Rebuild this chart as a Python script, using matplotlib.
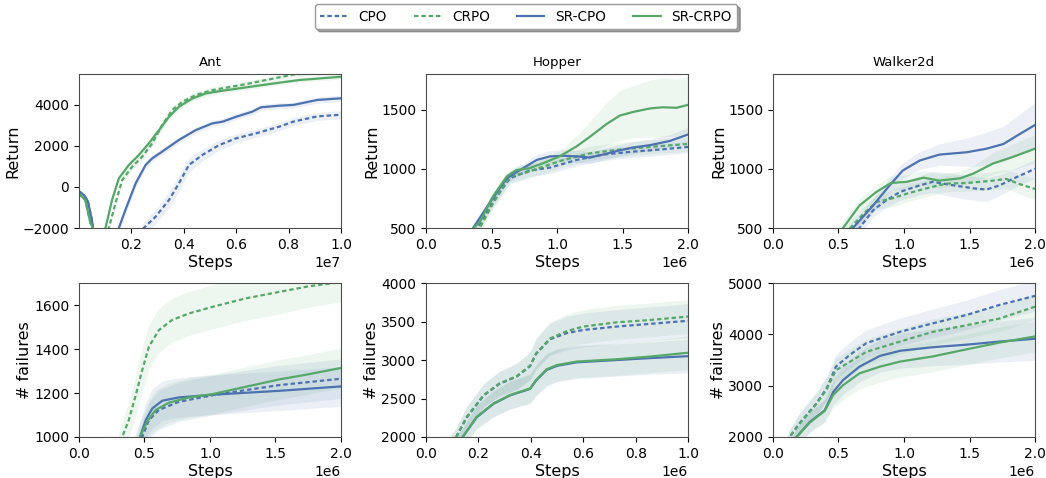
import numpy as np
import matplotlib.pyplot as plt

# цвета и стили методов
blue = '#4c72b0'
green = '#55a868'
methods = ['CPO', 'CRPO', 'SR-CPO', 'SR-CRPO']
colors = [blue, green, blue, green]
dash = (0, (2.0, 1.3))
styles = [dash, dash, '-', '-']

# ---------------- Ant, return (x * 1e7)
ant_ret_x_cpo = [0.0, 0.02, 0.035, 0.05, 0.065, 0.15, 0.248, 0.293, 0.344, 0.382, 0.42, 0.471, 0.535, 0.6, 0.675, 0.764, 0.82, 0.91, 1.0]
ant_ret_y_cpo = [-200, -400, -700, -1600, -3000, -4000, -2000, -1450, -636, 175, 1070, 1555, 2040, 2370, 2610, 2935, 3190, 3440, 3520]
ant_ret_s_cpo = [50, 50, 60, 80, 100, 200, 300, 350, 400, 400, 350, 300, 250, 220, 200, 200, 200, 200, 200]

ant_ret_x_crpo = [0.0, 0.025, 0.045, 0.054, 0.07, 0.1, 0.115, 0.14, 0.166, 0.204, 0.242, 0.28, 0.318, 0.357, 0.395, 0.446, 0.51, 0.637, 0.764, 0.82, 0.9, 1.0]
ant_ret_y_crpo = [-312, -636, -1770, -2000, -3500, -3300, -2000, -800, 340, 990, 1470, 2120, 3010, 3750, 4150, 4480, 4720, 5010, 5340, 5480, 5560, 5600]
ant_ret_s_crpo = [30, 30, 40, 50, 80, 100, 120, 150, 150, 150, 150, 160, 170, 170, 160, 150, 150, 140, 130, 130, 130, 130]

ant_ret_x_srcpo = [0.0, 0.02, 0.035, 0.05, 0.065, 0.12, 0.153, 0.178, 0.217, 0.255, 0.28, 0.318, 0.382, 0.446, 0.51, 0.548, 0.6, 0.662, 0.694, 0.764, 0.82, 0.91, 1.0]
ant_ret_y_srcpo = [-200, -400, -700, -1600, -3000, -3300, -2000, -1120, 175, 1070, 1390, 1720, 2290, 2770, 3100, 3180, 3420, 3670, 3880, 3960, 4000, 4240, 4320]
ant_ret_s_srcpo = [50, 50, 60, 80, 100, 150, 200, 200, 200, 180, 170, 160, 150, 150, 150, 150, 150, 150, 150, 150, 150, 150, 150]

ant_ret_x_srcrpo = [0.0, 0.025, 0.045, 0.054, 0.07, 0.09, 0.102, 0.127, 0.153, 0.191, 0.229, 0.267, 0.306, 0.344, 0.382, 0.433, 0.484, 0.548, 0.637, 0.764, 0.84, 1.0]
ant_ret_y_srcrpo = [-312, -636, -1770, -2000, -3500, -3000, -2000, -636, 420, 1070, 1555, 2120, 2770, 3420, 3910, 4310, 4560, 4690, 4850, 5080, 5210, 5370]
ant_ret_s_srcrpo = [30, 30, 40, 50, 80, 100, 120, 150, 150, 150, 150, 150, 150, 150, 150, 150, 150, 130, 120, 110, 110, 110]

# ---------------- Hopper, return (x * 1e6)
hop_ret_x_cpo = [0.3, 0.39, 0.51, 0.64, 0.79, 0.946, 1.15, 1.35, 1.58, 1.81, 2.0]
hop_ret_y_cpo = [300, 500, 720, 920, 985, 1010, 1075, 1120, 1145, 1165, 1185]
hop_ret_s_cpo = [40, 40, 45, 50, 50, 50, 50, 50, 50, 50, 50]

hop_ret_x_crpo = [0.3, 0.41, 0.51, 0.64, 0.74, 0.9, 1.05, 1.25, 1.455, 1.71, 2.0]
hop_ret_y_crpo = [300, 500, 705, 935, 960, 1020, 1075, 1130, 1160, 1185, 1210]
hop_ret_s_crpo = [40, 40, 45, 50, 55, 60, 60, 60, 60, 60, 60]

hop_ret_x_srcpo = [0.25, 0.36, 0.49, 0.616, 0.74, 0.845, 0.946, 1.05, 1.15, 1.25, 1.35, 1.455, 1.58, 1.71, 1.86, 2.0]
hop_ret_y_srcpo = [250, 500, 720, 920, 1005, 1075, 1105, 1110, 1105, 1095, 1120, 1150, 1180, 1200, 1235, 1290]
hop_ret_s_srcpo = [40, 40, 40, 40, 40, 45, 50, 50, 50, 50, 50, 50, 50, 50, 55, 60]

hop_ret_x_srcrpo = [0.25, 0.36, 0.41, 0.51, 0.616, 0.69, 0.79, 0.9, 1.02, 1.15, 1.25, 1.38, 1.48, 1.58, 1.71, 1.81, 1.91, 2.0]
hop_ret_y_srcrpo = [250, 500, 550, 765, 935, 990, 1005, 1050, 1105, 1190, 1270, 1380, 1450, 1480, 1510, 1520, 1515, 1540]
hop_ret_s_srcrpo = [40, 40, 40, 40, 40, 35, 35, 40, 50, 90, 130, 180, 210, 220, 240, 250, 240, 240]

# ---------------- Walker2d, return (x * 1e6)
wal_ret_x_cpo = [0.5, 0.66, 0.764, 0.866, 0.97, 1.12, 1.22, 1.38, 1.53, 1.63, 1.73, 1.83, 2.0]
wal_ret_y_cpo = [300, 500, 650, 735, 805, 860, 890, 860, 835, 825, 860, 915, 1000]
wal_ret_s_cpo = [60, 60, 60, 60, 70, 80, 90, 100, 100, 100, 90, 80, 80]

wal_ret_x_crpo = [0.45, 0.59, 0.69, 0.79, 0.91, 1.02, 1.17, 1.32, 1.48, 1.68, 1.78, 1.885, 2.0]
wal_ret_y_crpo = [300, 500, 620, 720, 750, 790, 835, 875, 880, 900, 915, 870, 830]
wal_ret_s_crpo = [60, 60, 60, 60, 70, 70, 70, 70, 70, 75, 80, 85, 90]

wal_ret_x_srcpo = [0.45, 0.61, 0.764, 0.89, 0.99, 1.12, 1.27, 1.48, 1.63, 1.76, 1.885, 2.0]
wal_ret_y_srcpo = [300, 500, 690, 860, 985, 1070, 1120, 1140, 1170, 1210, 1295, 1370]
wal_ret_s_srcpo = [60, 60, 60, 60, 65, 75, 90, 120, 140, 150, 170, 190]

wal_ret_x_srcrpo = [0.4, 0.535, 0.66, 0.79, 0.9, 1.02, 1.15, 1.27, 1.43, 1.53, 1.68, 1.83, 2.0]
wal_ret_y_srcrpo = [300, 500, 690, 805, 880, 890, 925, 900, 920, 960, 1045, 1100, 1170]
wal_ret_s_srcrpo = [60, 60, 60, 60, 60, 60, 60, 60, 60, 70, 90, 110, 120]

# ---------------- Ant, failures (x * 1e6)
ant_fail_x_cpo = [0.42, 0.483, 0.534, 0.61, 0.763, 1.02, 1.27, 1.53, 2.0]
ant_fail_y_cpo = [900, 1000, 1077, 1123, 1160, 1190, 1213, 1236, 1265]
ant_fail_s_cpo = [60, 70, 80, 90, 90, 90, 90, 90, 90]

ant_fail_x_crpo = [0.25, 0.33, 0.38, 0.43, 0.483, 0.534, 0.61, 0.71, 0.84, 1.02, 1.27, 1.53, 1.75, 2.0]
ant_fail_y_crpo = [850, 1000, 1077, 1183, 1305, 1411, 1486, 1532, 1562, 1592, 1630, 1660, 1685, 1705]
ant_fail_s_crpo = [60, 70, 80, 90, 100, 100, 100, 100, 100, 100, 100, 100, 95, 90]

ant_fail_x_srcpo = [0.4, 0.466, 0.51, 0.56, 0.636, 0.763, 1.02, 1.27, 1.53, 2.0]
ant_fail_y_srcpo = [900, 1000, 1077, 1130, 1165, 1180, 1192, 1201, 1210, 1230]
ant_fail_s_srcpo = [60, 70, 80, 90, 90, 90, 90, 90, 90, 90]

ant_fail_x_srcrpo = [0.4, 0.466, 0.52, 0.585, 0.687, 0.84, 1.02, 1.27, 1.53, 1.75, 2.0]
ant_fail_y_srcrpo = [900, 1000, 1070, 1123, 1156, 1180, 1195, 1228, 1262, 1285, 1314]
ant_fail_s_srcrpo = [60, 70, 80, 90, 90, 90, 90, 90, 90, 90, 90]

# ---------------- Hopper, failures (x * 1e6)
hop_fail_x_cpo = [0.08, 0.115, 0.155, 0.22, 0.28, 0.346, 0.397, 0.42, 0.473, 0.537, 0.6, 0.727, 0.855, 1.0]
hop_fail_y_cpo = [1850, 2000, 2250, 2540, 2690, 2785, 2920, 3080, 3270, 3350, 3390, 3435, 3470, 3510]
hop_fail_s_cpo = [100, 120, 140, 150, 160, 170, 180, 200, 210, 220, 220, 220, 220, 220]

hop_fail_x_crpo = [0.08, 0.115, 0.155, 0.22, 0.28, 0.346, 0.397, 0.42, 0.473, 0.537, 0.6, 0.727, 0.855, 1.0]
hop_fail_y_crpo = [1850, 2000, 2260, 2545, 2695, 2790, 2925, 3085, 3280, 3375, 3435, 3490, 3520, 3565]
hop_fail_s_crpo = [100, 120, 140, 150, 160, 170, 180, 200, 210, 220, 220, 220, 220, 220]

hop_fail_x_srcpo = [0.1, 0.14, 0.193, 0.257, 0.32, 0.397, 0.42, 0.46, 0.5, 0.575, 0.727, 0.855, 1.0]
hop_fail_y_srcpo = [1850, 2000, 2255, 2430, 2540, 2625, 2735, 2870, 2925, 2970, 3000, 3025, 3050]
hop_fail_s_srcpo = [100, 120, 150, 170, 180, 190, 200, 210, 210, 210, 210, 210, 220]

hop_fail_x_srcrpo = [0.1, 0.14, 0.193, 0.257, 0.32, 0.397, 0.42, 0.46, 0.5, 0.575, 0.727, 0.855, 1.0]
hop_fail_y_srcrpo = [1850, 2000, 2260, 2435, 2545, 2630, 2740, 2880, 2935, 2980, 3010, 3045, 3095]
hop_fail_s_srcrpo = [100, 120, 150, 170, 180, 190, 200, 210, 210, 210, 210, 210, 220]

# ---------------- Walker2d, failures (x * 1e6)
wal_fail_x_cpo = [0.05, 0.127, 0.2, 0.33, 0.41, 0.48, 0.586, 0.713, 0.97, 1.22, 1.48, 1.73, 2.0]
wal_fail_y_cpo = [1500, 2000, 2260, 2650, 2950, 3370, 3600, 3830, 4050, 4215, 4380, 4575, 4750]
wal_fail_s_cpo = [100, 150, 200, 220, 230, 240, 250, 260, 270, 280, 290, 300, 300]

wal_fail_x_crpo = [0.05, 0.127, 0.2, 0.33, 0.41, 0.48, 0.586, 0.713, 0.97, 1.22, 1.48, 1.73, 2.0]
wal_fail_y_crpo = [1500, 2000, 2250, 2640, 2930, 3300, 3465, 3660, 3860, 4050, 4180, 4310, 4540]
wal_fail_s_crpo = [100, 150, 200, 220, 230, 240, 250, 250, 250, 250, 250, 250, 250]

wal_fail_x_srcpo = [0.1, 0.18, 0.28, 0.395, 0.46, 0.535, 0.66, 0.815, 0.97, 1.22, 1.48, 1.73, 2.0]
wal_fail_y_srcpo = [1600, 2000, 2290, 2520, 2880, 3110, 3370, 3580, 3680, 3750, 3800, 3860, 3915]
wal_fail_s_srcpo = [150, 180, 200, 220, 250, 280, 300, 320, 340, 360, 380, 400, 420]

wal_fail_x_srcrpo = [0.1, 0.18, 0.28, 0.395, 0.46, 0.535, 0.66, 0.815, 0.97, 1.22, 1.48, 1.73, 2.0]
wal_fail_y_srcrpo = [1600, 2000, 2280, 2510, 2820, 3010, 3240, 3370, 3470, 3570, 3710, 3840, 3960]
wal_fail_s_srcrpo = [150, 180, 200, 220, 250, 280, 300, 300, 300, 300, 300, 300, 300]

panels = [
    # (x-список, y-список, разброс) для CPO, CRPO, SR-CPO, SR-CRPO
    [(ant_ret_x_cpo, ant_ret_y_cpo, ant_ret_s_cpo), (ant_ret_x_crpo, ant_ret_y_crpo, ant_ret_s_crpo),
     (ant_ret_x_srcpo, ant_ret_y_srcpo, ant_ret_s_srcpo), (ant_ret_x_srcrpo, ant_ret_y_srcrpo, ant_ret_s_srcrpo)],
    [(hop_ret_x_cpo, hop_ret_y_cpo, hop_ret_s_cpo), (hop_ret_x_crpo, hop_ret_y_crpo, hop_ret_s_crpo),
     (hop_ret_x_srcpo, hop_ret_y_srcpo, hop_ret_s_srcpo), (hop_ret_x_srcrpo, hop_ret_y_srcrpo, hop_ret_s_srcrpo)],
    [(wal_ret_x_cpo, wal_ret_y_cpo, wal_ret_s_cpo), (wal_ret_x_crpo, wal_ret_y_crpo, wal_ret_s_crpo),
     (wal_ret_x_srcpo, wal_ret_y_srcpo, wal_ret_s_srcpo), (wal_ret_x_srcrpo, wal_ret_y_srcrpo, wal_ret_s_srcrpo)],
    [(ant_fail_x_cpo, ant_fail_y_cpo, ant_fail_s_cpo), (ant_fail_x_crpo, ant_fail_y_crpo, ant_fail_s_crpo),
     (ant_fail_x_srcpo, ant_fail_y_srcpo, ant_fail_s_srcpo), (ant_fail_x_srcrpo, ant_fail_y_srcrpo, ant_fail_s_srcrpo)],
    [(hop_fail_x_cpo, hop_fail_y_cpo, hop_fail_s_cpo), (hop_fail_x_crpo, hop_fail_y_crpo, hop_fail_s_crpo),
     (hop_fail_x_srcpo, hop_fail_y_srcpo, hop_fail_s_srcpo), (hop_fail_x_srcrpo, hop_fail_y_srcrpo, hop_fail_s_srcrpo)],
    [(wal_fail_x_cpo, wal_fail_y_cpo, wal_fail_s_cpo), (wal_fail_x_crpo, wal_fail_y_crpo, wal_fail_s_crpo),
     (wal_fail_x_srcpo, wal_fail_y_srcpo, wal_fail_s_srcpo), (wal_fail_x_srcrpo, wal_fail_y_srcrpo, wal_fail_s_srcrpo)],
]
titles = ['Ant', 'Hopper', 'Walker2d', '', '', '']
ylabels = ['Return', 'Return', 'Return', '# failures', '# failures', '# failures']
xscale = [1e7, 1e6, 1e6, 1e6, 1e6, 1e6]
xlims = [(1e4, 1e7), (0, 2e6), (0, 2e6), (0, 2e6), (0, 1e6), (0, 2e6)]
ylims = [(-2000, 5500), (500, 1800), (500, 1800), (1000, 1700), (2000, 4000), (2000, 5000)]
yticks = [[-2000, 0, 2000, 4000], [500, 1000, 1500], [500, 1000, 1500],
          [1000, 1200, 1400, 1600], [2000, 2500, 3000, 3500, 4000], [2000, 3000, 4000, 5000]]

fig = plt.figure(figsize=(10.46, 4.78), dpi=100)
lefts = [0.0755, 0.4073, 0.739]
bottoms = [0.523, 0.0858]

handles = []
for k in range(6):
    ax = fig.add_axes([lefts[k % 3], bottoms[k // 3], 0.2505, 0.322])
    for m in range(4):
        x, y, s = panels[k][m]
        x = np.array(x) * xscale[k]
        y = np.array(y)
        s = np.array(s)
        ax.fill_between(x, y - s, y + s, color=colors[m], alpha=0.1, lw=0)
        ln, = ax.plot(x, y, color=colors[m], linestyle=styles[m], lw=1.6, label=methods[m])
        if k == 0:
            handles.append(ln)
    ax.set_xlim(*xlims[k])
    ax.set_ylim(*ylims[k])
    ax.set_yticks(yticks[k])
    ax.tick_params(labelsize=10)
    ax.xaxis.get_offset_text().set_fontsize(10)
    ax.set_xlabel('Steps', fontsize=11.5, labelpad=2.5)
    ax.set_ylabel(ylabels[k], fontsize=11.5, labelpad=1.5)
    if titles[k]:
        ax.set_title(titles[k], fontsize=9.5)
    for sp in ax.spines.values():
        sp.set_color('0.3')

fig.legend(handles=handles, loc='upper center', bbox_to_anchor=(0.503, 1.0), ncol=4,
           fontsize=9.8, shadow=True, fancybox=True, edgecolor='0.6', borderaxespad=0.3)

fig.savefig('out.png', dpi=100)
